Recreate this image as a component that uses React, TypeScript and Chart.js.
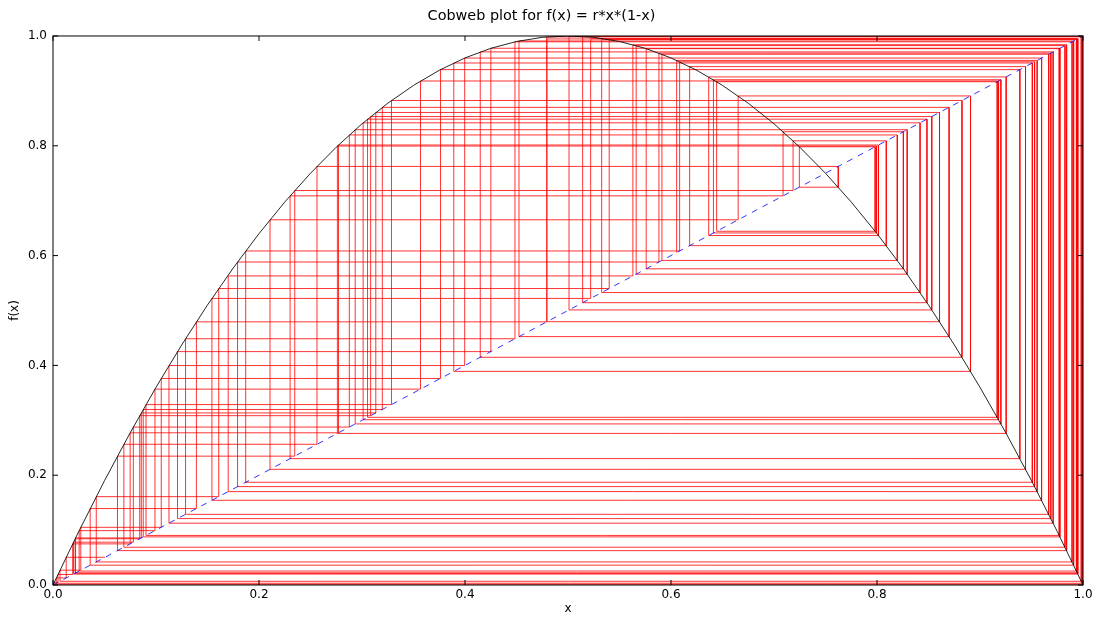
import React, { useEffect, useRef } from "react";
import { Chart, registerables } from "chart.js";
Chart.register(...registerables);

const titleText = "Cobweb plot for f(x) = r*x*(1-x)";
const xLabel = "x";
const yLabel = "f(x)";
const tickValues = [0, 0.2, 0.4, 0.6, 0.8, 1.0];
const tickLabels = ["0.0", "0.2", "0.4", "0.6", "0.8", "1.0"];

const curveX = [0, 0.025, 0.05, 0.075, 0.1, 0.125, 0.15, 0.175, 0.2, 0.225, 0.25, 0.275, 0.3, 0.325, 0.35, 0.375, 0.4, 0.425, 0.45, 0.475, 0.5, 0.525, 0.55, 0.575, 0.6, 0.625, 0.65, 0.675, 0.7, 0.725, 0.75, 0.775, 0.8, 0.825, 0.85, 0.875, 0.9, 0.925, 0.95, 0.975, 1];
const curveY = [0, 0.0975, 0.19, 0.2775, 0.36, 0.4375, 0.51, 0.5775, 0.64, 0.6975, 0.75, 0.7975, 0.84, 0.8775, 0.91, 0.9375, 0.96, 0.9775, 0.99, 0.9975, 1.0, 0.9975, 0.99, 0.9775, 0.96, 0.9375, 0.91, 0.8775, 0.84, 0.7975, 0.75, 0.6975, 0.64, 0.5775, 0.51, 0.4375, 0.36, 0.2775, 0.19, 0.0975, 0];

const diagX = [0, 1];
const diagY = [0, 1];

const orbit = [
  0.6055, 0.9555, 0.1701, 0.5630, 0.9841, 0.0626, 0.2347, 0.7185, 0.8090, 0.6181,
  0.9442, 0.2107, 0.6652, 0.8908, 0.3891, 0.9508, 0.1871, 0.6084, 0.9530, 0.1792,
  0.5883, 0.9688, 0.1209, 0.4251, 0.9776, 0.0876, 0.3197, 0.8700, 0.4524, 0.9909,
  0.0361, 0.1392, 0.4793, 0.9983, 0.0068, 0.0270, 0.1051, 0.3762, 0.9387, 0.2302,
  0.7088, 0.8256, 0.5759, 0.9769, 0.0903, 0.3286, 0.8825, 0.4148, 0.9710, 0.1126,
  0.3997, 0.9598, 0.1543, 0.5220, 0.9950, 0.0199, 0.0780, 0.2877, 0.8197, 0.5912,
  0.9667, 0.1287, 0.4485, 0.9894, 0.0420, 0.1609, 0.5400, 0.9936, 0.0254, 0.0990,
  0.3568, 0.9180, 0.3011, 0.8418, 0.5327, 0.9945, 0.0219, 0.0857, 0.3134, 0.8607,
  0.4796, 0.9946, 0.0215, 0.0842, 0.3084, 0.8532, 0.5010, 0.9997, 0.0012, 0.0048,
  0.0191, 0.0749, 0.2772, 0.8014, 0.6366, 0.9254, 0.2761, 0.7995, 0.6412, 0.9203,
  0.2934, 0.8293, 0.5662, 0.9825, 0.0688, 0.2563, 0.7624, 0.7246, 0.7982, 0.6443,
  0.9167, 0.3054, 0.8485, 0.5142, 0.9992, 0.0032, 0.0128, 0.0505,
];

const FONT = "'DejaVu Sans', sans-serif";

const framePlugin = {
  id: "frameTicks",
  afterDatasetsDraw(chart: any) {
    const { ctx, chartArea: a, scales } = chart;
    ctx.save();
    ctx.strokeStyle = "#000";
    ctx.lineWidth = 1;
    ctx.strokeRect(a.left, a.top, a.right - a.left, a.bottom - a.top);
    const L = 5;
    ctx.beginPath();
    tickValues.forEach((v) => {
      const px = scales.x.getPixelForValue(v);
      ctx.moveTo(px, a.bottom);
      ctx.lineTo(px, a.bottom - L);
      ctx.moveTo(px, a.top);
      ctx.lineTo(px, a.top + L);
      const py = scales.y.getPixelForValue(v);
      ctx.moveTo(a.left, py);
      ctx.lineTo(a.left + L, py);
      ctx.moveTo(a.right, py);
      ctx.lineTo(a.right - L, py);
    });
    ctx.stroke();
    ctx.restore();
  },
};

export default function App() {
  const ref = useRef<HTMLCanvasElement | null>(null);
  useEffect(() => {
    if (!ref.current) return;
    const web: { x: number; y: number }[] = [];
    for (let i = 0; i < orbit.length - 1; i++) {
      web.push({ x: orbit[i], y: orbit[i] });
      web.push({ x: orbit[i], y: orbit[i + 1] });
    }
    web.push({ x: orbit[orbit.length - 1], y: orbit[orbit.length - 1] });
    const curve = curveX.map((x, i) => ({ x, y: curveY[i] }));
    const diag = diagX.map((x, i) => ({ x, y: diagY[i] }));

    const tickOpts = {
      color: "#000",
      font: { family: FONT, size: 12 },
    };

    const chart = new Chart(ref.current, {
      type: "scatter",
      data: {
        datasets: [
          {
            data: diag,
            showLine: true,
            borderColor: "rgba(0,0,255,0.8)",
            borderWidth: 1,
            borderDash: [6, 6],
            pointRadius: 0,
            order: 0,
          },
          {
            data: curve,
            showLine: true,
            borderColor: "rgba(0,0,0,0.85)",
            borderWidth: 1,
            pointRadius: 0,
            order: 1,
          },
          {
            data: web,
            showLine: true,
            borderColor: "rgba(255,0,0,0.8)",
            borderWidth: 1,
            pointRadius: 0,
            order: 2,
          },
        ],
      },
      options: {
        responsive: false,
        animation: false,
        devicePixelRatio: 1,
        layout: { padding: { left: 0, right: 14, top: 0, bottom: 0 } },
        plugins: {
          legend: { display: false },
          tooltip: { enabled: false },
          title: {
            display: true,
            text: titleText,
            color: "#000",
            font: { family: FONT, size: 14.4, weight: "normal" },
            padding: { top: 8, bottom: 10.7 },
          },
        },
        scales: {
          x: {
            type: "linear",
            min: 0,
            max: 1,
            grid: { display: false, drawTicks: false },
            border: { display: false },
            afterBuildTicks: (s: any) => {
              s.ticks = tickValues.map((v) => ({ value: v }));
            },
            afterFit: (s: any) => {
              s.height = 32;
            },
            ticks: {
              ...tickOpts,
              padding: 3,
              maxRotation: 0,
              autoSkip: false,
              callback: (_v: any, i: number) => tickLabels[i],
            },
            title: {
              display: true,
              text: xLabel,
              color: "#000",
              font: { family: FONT, size: 12 },
              padding: { top: 0, bottom: 1 },
            },
          },
          y: {
            type: "linear",
            min: 0,
            max: 1,
            grid: { display: false, drawTicks: false },
            border: { display: false },
            afterBuildTicks: (s: any) => {
              s.ticks = tickValues.map((v) => ({ value: v }));
            },
            afterFit: (s: any) => {
              s.width = 53;
            },
            ticks: {
              ...tickOpts,
              padding: 6,
              autoSkip: false,
              callback: (_v: any, i: number) => tickLabels[i],
            },
            title: {
              display: true,
              text: yLabel,
              color: "#000",
              font: { family: FONT, size: 12 },
              padding: { top: 8, bottom: 0 },
            },
          },
        },
      },
      plugins: [framePlugin],
    } as any);
    return () => chart.destroy();
  }, []);

  return (
    <div style={{ position: "absolute", left: 0, top: 0, width: 1097, height: 617, background: "#fff" }}>
      <canvas ref={ref} width={1097} height={617} style={{ display: "block" }} />
    </div>
  );
}
